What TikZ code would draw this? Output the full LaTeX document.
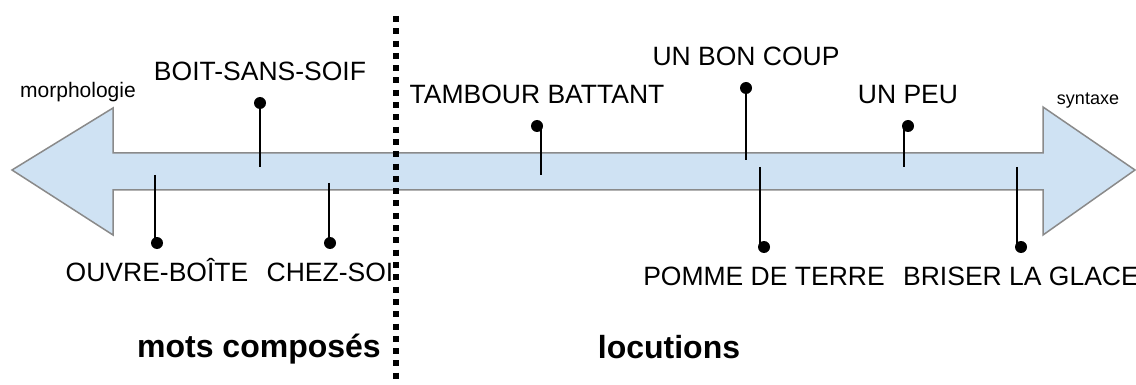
\documentclass[tikz,border=0pt]{standalone}
\usepackage{fontspec}
\setmainfont{Liberation Sans}
\usepackage{tikz}
\usetikzlibrary{positioning}
\definecolor{cBand}    {HTML}{CFE2F3}
\definecolor{cBandLine}{HTML}{8A8A8A}
\tikzset{
  dotnode/.style={circle, fill=black, inner sep=0pt, minimum size=6pt},
  stem/.style={line width=1pt},
  wordlbl/.style={inner sep=0pt, text height=9.5pt, text depth=0pt,
    font=\fontsize{13.25}{15}\selectfont},
  catlbl/.style={inner sep=0pt, anchor=base, font=\bfseries\fontsize{16}{19}\selectfont},
}

\begin{document}
\begin{tikzpicture}[x=0.5pt, y=-0.5pt]
  \useasboundingbox (0,0) rectangle (1136,385);
  % double arrow band
  \draw[fill=cBand, draw=cBandLine, line width=0.75pt]
    (12,170) -- (113,108) -- (113,153) -- (1043,153) -- (1043,107) -- (1135,170)
    -- (1043,235) -- (1043,190) -- (113,190) -- (113,235) -- cycle;
  % separator
  \coordinate (sepTop) at (396,16);
  \coordinate (sepBot) at (396,385);
  \draw[line width=3pt, dash pattern=on 3pt off 3.15pt] (sepTop) -- (sepBot);
  % words above the band
  \foreach \n/\dx/\dy/\sx/\sy/\t in {1/260/103/260/167/BOIT-SANS-SOIF,
      4/537/126/541/175/TAMBOUR BATTANT, 5/746/88/746/160/UN BON COUP,
      6/908/126/904/167/UN PEU}{
    \node[dotnode] (d\n) at (\dx,\dy) {};
    \coordinate (e\n) at (\sx,\sy);
    \draw[stem] (e\n) -- (e\n |- d\n);
    \node[wordlbl, above=7.75pt of d\n] (w\n) {\t};
  }
  % words below the band
  \foreach \n/\dx/\dy/\sx/\sy/\t in {2/157/243/155/175/OUVRE-BOÎTE,
      3/330/243/329/183/CHEZ-SOI, 7/764/247/760/167/POMME DE TERRE,
      8/1021/247/1017/167/BRISER LA GLACE}{
    \node[dotnode] (d\n) at (\dx,\dy) {};
    \coordinate (e\n) at (\sx,\sy);
    \draw[stem] (e\n) -- (e\n |- d\n);
    \node[wordlbl, below=6.25pt of d\n] (w\n) {\t};
  }
  % ends and categories
  \node[font=\fontsize{10.5}{12}\selectfont, anchor=base] (morph) at (78,98) {morphologie};
  \node[font=\fontsize{9}{11}\selectfont, anchor=base] (synt) at (1088,105) {syntaxe};
  \node[catlbl] (mots) at (259,357) {mots composés};
  \node[catlbl] (locs) at (669,358) {locutions};
\end{tikzpicture}
\end{document}
